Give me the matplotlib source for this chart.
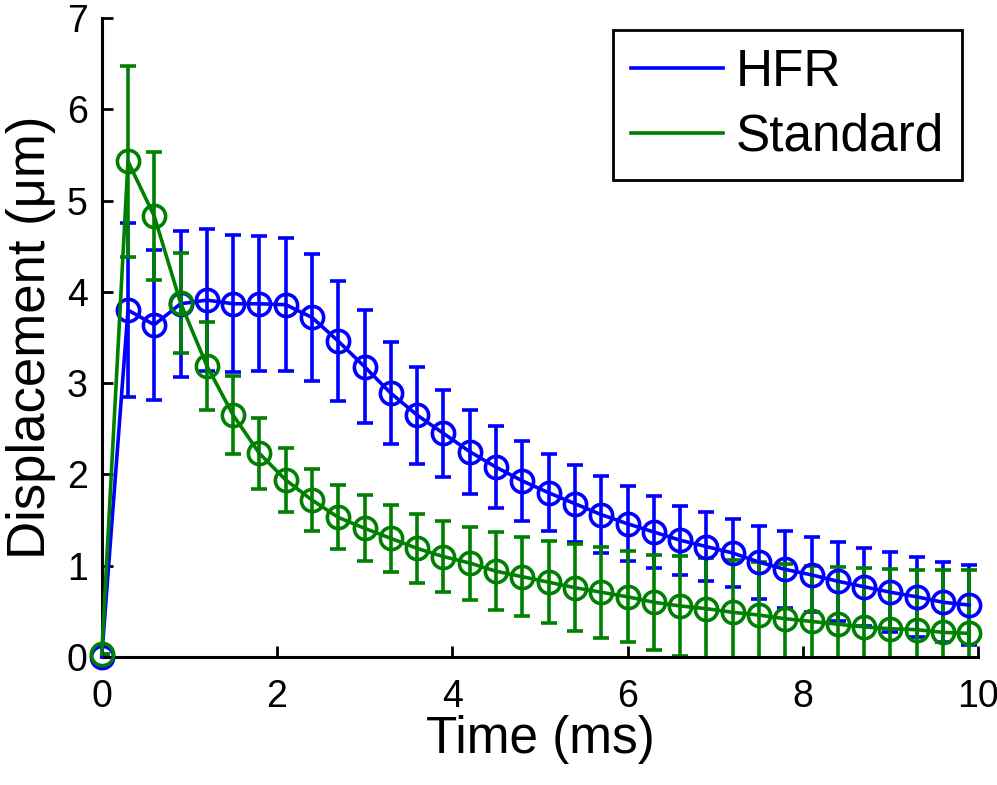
"""
Displacement vs time, HFR vs Standard
"""
import matplotlib
matplotlib.use('Agg')
import matplotlib.pyplot as plt
from matplotlib.lines import Line2D

plt.rcParams['font.family'] = ['Liberation Sans', 'DejaVu Sans']

# ----数据-----
time_ms = [0.0, 0.3, 0.6, 0.9, 1.2, 1.5, 1.8, 2.1, 2.4, 2.7, 3.0, 3.3,
           3.6, 3.9, 4.2, 4.5, 4.8, 5.1, 5.4, 5.7, 6.0, 6.3, 6.6, 6.9,
           7.2, 7.5, 7.8, 8.1, 8.4, 8.7, 9.0, 9.3, 9.6, 9.9]

hfr_mean = [0.0, 3.80, 3.64, 3.87, 3.91, 3.87, 3.87, 3.86, 3.72, 3.46, 3.18, 2.89,
            2.65, 2.45, 2.25, 2.08, 1.93, 1.80, 1.68, 1.56, 1.46, 1.37, 1.28, 1.21,
            1.14, 1.04, 0.96, 0.90, 0.83, 0.77, 0.71, 0.66, 0.60, 0.57]
hfr_err = [0.0, 0.95, 0.82, 0.80, 0.78, 0.75, 0.74, 0.73, 0.70, 0.66, 0.62, 0.56,
           0.53, 0.48, 0.46, 0.45, 0.44, 0.42, 0.42, 0.42, 0.41, 0.39, 0.38, 0.38,
           0.37, 0.40, 0.42, 0.41, 0.43, 0.43, 0.44, 0.44, 0.44, 0.44]

std_mean = [0.03, 5.43, 4.83, 3.88, 3.19, 2.65, 2.23, 1.94, 1.72, 1.53, 1.41, 1.30,
            1.19, 1.10, 1.03, 0.94, 0.88, 0.82, 0.76, 0.71, 0.66, 0.60, 0.56, 0.53,
            0.49, 0.46, 0.42, 0.39, 0.36, 0.33, 0.31, 0.30, 0.27, 0.26]
std_err = [0.0, 1.05, 0.70, 0.55, 0.48, 0.43, 0.39, 0.35, 0.34, 0.35, 0.36, 0.37,
           0.38, 0.39, 0.40, 0.43, 0.43, 0.45, 0.48, 0.50, 0.50, 0.52, 0.55, 0.55,
           0.57, 0.58, 0.60, 0.61, 0.63, 0.64, 0.65, 0.65, 0.68, 0.69]

blue = '#0000ff'
green = '#008000'

# ----画图-----
fig = plt.figure(figsize=(9.97, 7.85), dpi=100)
ax = fig.add_axes([0.102, 0.163, 0.879, 0.814])

for mean, err, c in [(hfr_mean, hfr_err, blue), (std_mean, std_err, green)]:
    ax.errorbar(time_ms, mean, yerr=err, fmt='none', ecolor=c,
                elinewidth=2.6, capsize=6, capthick=2.6)
    ax.plot(time_ms, mean, '-o', color=c, lw=2.6, markersize=16,
            markerfacecolor='none', markeredgewidth=2.6, clip_on=False, zorder=3)

ax.set_xlim(0, 10)
ax.set_ylim(0, 7)
ax.set_xticks([0, 2, 4, 6, 8, 10])
ax.set_yticks(range(8))
ax.spines['top'].set_visible(False)
ax.spines['right'].set_visible(False)
for s in ['left', 'bottom']:
    ax.spines[s].set_linewidth(2.2)
ax.tick_params(direction='in', length=8, width=2, labelsize=27)
ax.tick_params(axis='x', pad=16)
ax.tick_params(axis='y', pad=10)

ax.set_xlabel('Time (ms)', fontsize=37, labelpad=0)
ax.set_ylabel('Displacement (\u03bcm)', fontsize=38, labelpad=8)

handles = [Line2D([], [], color=blue, lw=2.6), Line2D([], [], color=green, lw=2.6)]
leg = ax.legend(handles, ['HFR', 'Standard'], loc='upper right',
                bbox_to_anchor=(0.982, 0.981), borderaxespad=0, fontsize=37,
                handlelength=1.8, handletextpad=0.25, borderpad=0.35,
                labelspacing=0.3, fancybox=False, framealpha=1, edgecolor='black')
leg.get_frame().set_linewidth(2)

fig.savefig('out.png', dpi=100)
